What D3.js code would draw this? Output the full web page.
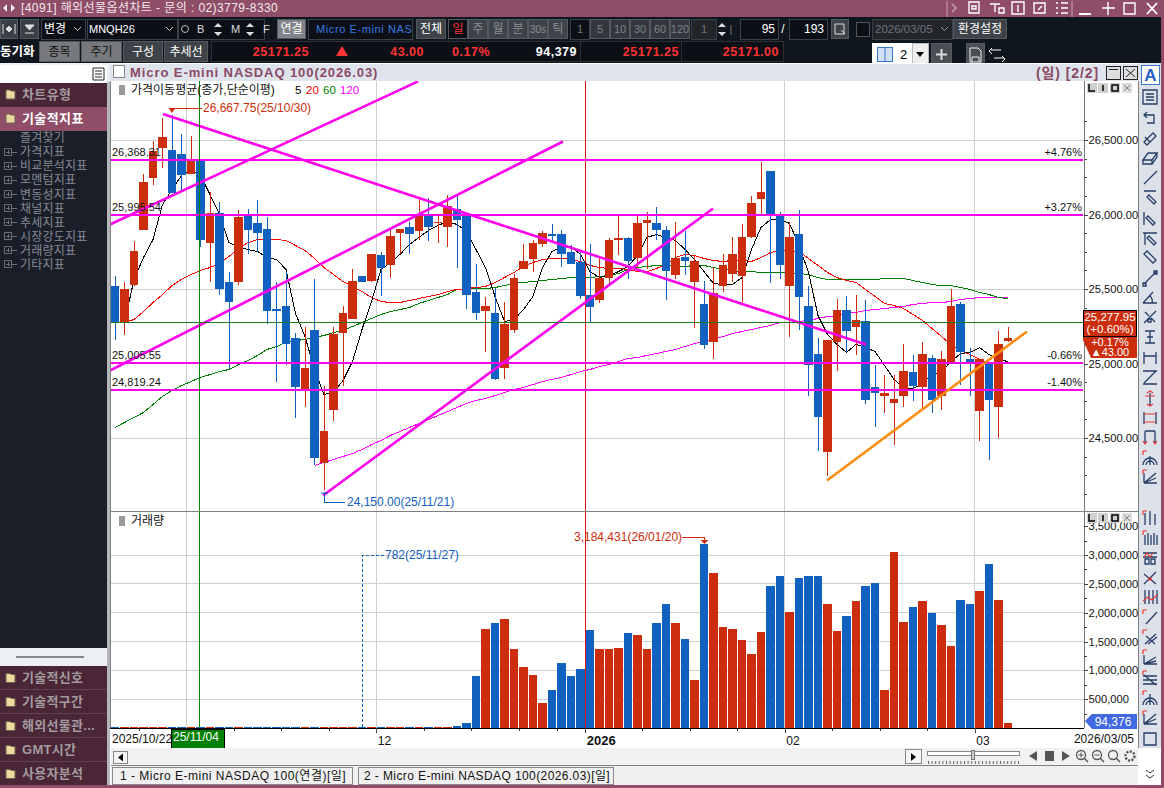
<!DOCTYPE html>
<html>
<head>
<meta charset="utf-8">
<script src="https://cdn.jsdelivr.net/npm/d3@7/dist/d3.min.js"></script>
<style>
html, body { margin: 0; padding: 0; background: #fff; overflow: hidden; }
svg { display: block; }
text { font-family: "Liberation Sans", "Noto Sans CJK KR", sans-serif; }
</style>
</head>
<body>
<div class="graphic"></div>
<script>
// chart values
var dates = ["2025/10/22","2025/10/23","2025/10/24","2025/10/27","2025/10/28","2025/10/29","2025/10/30","2025/10/31","2025/11/03","2025/11/04","2025/11/05","2025/11/06","2025/11/07","2025/11/10","2025/11/11","2025/11/12","2025/11/13","2025/11/14","2025/11/17","2025/11/18","2025/11/19","2025/11/20","2025/11/21","2025/11/24","2025/11/25","2025/11/26","2025/11/27","2025/11/28","2025/12/01","2025/12/02","2025/12/03","2025/12/04","2025/12/05","2025/12/08","2025/12/09","2025/12/10","2025/12/11","2025/12/12","2025/12/15","2025/12/16","2025/12/17","2025/12/18","2025/12/19","2025/12/22","2025/12/23","2025/12/24","2025/12/26","2025/12/29","2025/12/30","2025/12/31","2026/01/02","2026/01/05","2026/01/06","2026/01/07","2026/01/08","2026/01/09","2026/01/12","2026/01/13","2026/01/14","2026/01/15","2026/01/16","2026/01/19","2026/01/20","2026/01/21","2026/01/22","2026/01/23","2026/01/26","2026/01/27","2026/01/28","2026/01/29","2026/01/30","2026/02/02","2026/02/03","2026/02/04","2026/02/05","2026/02/06","2026/02/09","2026/02/10","2026/02/11","2026/02/12","2026/02/13","2026/02/16","2026/02/17","2026/02/18","2026/02/19","2026/02/20","2026/02/23","2026/02/24","2026/02/25","2026/02/26","2026/02/27","2026/03/02","2026/03/03","2026/03/04","2026/03/05"];
var opens = [25517,25275,25530,25893,26242,26443,26430,26409,26275,26369,25812,26013,25550,25550,25987,25940,25906,25369,25389,25168,24826,25222,24329,24691,25208,25302,25584,25557,25725,25664,25879,25913,25886,25987,25946,25919,26034,26000,25477,25349,25336,24973,25228,25631,25698,25805,25872,25872,25745,25678,25463,25423,25577,25826,25839,25711,25940,25946,25899,25591,25718,25550,25396,25141,25523,25604,25584,25852,26107,26289,25993,25523,25872,25389,25067,24403,25141,25362,25248,25282,24839,24785,24738,24779,24940,24839,25034,24779,25007,25396,25027,24678,25000,24705,25148];
var highs = [25584,25544,25819,26275,26490,26651,26668,26537,26530,26369,26148,26087,25611,26027,26034,26094,25980,25550,25617,25208,25242,25570,24846,25242,25383,25631,25584,25738,25745,25899,25906,25953,26101,26114,26000,26128,26121,26000,25671,25443,25510,25416,25604,25799,25832,25886,25933,25893,25792,25745,25805,25711,25839,25987,25852,25987,26020,26047,25926,25953,25886,25725,25557,25651,25738,25846,25933,26121,26349,26289,26020,25953,26027,25517,25168,25161,25430,25450,25463,25423,24993,24920,24920,25128,25054,25141,25060,25081,25497,25416,25101,25027,25000,25215,25242];
var lows = [25161,25188,25517,25893,26201,26315,26141,26154,26275,25779,25544,25463,24960,25530,25738,25745,25262,24879,24987,24631,24711,24322,24150,24611,24852,25302,25550,25544,25450,25577,25732,25738,25832,25819,25812,25785,25638,25369,25289,25074,24886,24899,25208,25631,25611,25779,25812,25651,25671,25430,25275,25409,25530,25725,25570,25644,25631,25832,25423,25564,25591,25235,25094,25027,25483,25544,25403,25839,26000,25537,25570,25181,25222,24785,24410,24242,24953,25074,25060,24725,24577,24671,24450,24705,24745,24691,24671,24691,25007,24859,24779,24477,24349,24497,25141];
var closes = [25275,25503,25758,26221,26423,26523,26141,26262,26369,25832,26013,25497,25416,25980,25899,25879,25349,25349,25128,24839,24973,24369,24550,25195,25336,25557,25550,25738,25638,25859,25906,25866,25987,25913,25953,26054,25966,25463,25336,25383,24893,25262,25577,25691,25812,25879,25859,25732,25671,25450,25376,25577,25826,25839,25685,25940,25960,25899,25624,25705,25685,25691,25121,25470,25658,25738,25852,26074,26154,26000,25664,25852,25443,24993,24644,25161,25356,25215,25289,24758,24799,24805,24765,24953,24852,25067,24758,25027,25383,25074,25013,25027,24752,25128,25171.25];
var volumes = [2100,1800,2400,1500,2600,1900,2200,1700,2300,2000,1600,2500,1900,1400,2100,1800,2200,1300,1700,2400,2000,2600,1900,1500,1200,900,782,1100,1800,2300,2900,3400,4200,5600,9000,17000,40000,92000,902000,1713000,1816000,1885000,1368000,1057000,920000,437000,661000,1126000,902000,1023000,1695000,1368000,1368000,1385000,1644000,1609000,1368000,1816000,2144000,1816000,1540000,833000,3184431,2695000,1747000,1713000,1523000,1282000,1661000,2454000,2644000,2006000,2609000,2644000,2644000,2144000,1678000,1937000,2195000,2454000,2523000,661000,3057000,1833000,2092000,2195000,1988000,1782000,1420000,2213000,2144000,2368000,2851000,2213000,94376];
var ma5 = [null,25275,25564,25711,25832,26067,26168,26262,26302,26262,26134,26000,25812,25779,25765,25752,25711,25698,25631,25336,25181,24960,24792,24805,24886,25013,25228,25416,25631,25678,25732,25799,25846,25893,25926,25953,25933,25886,25765,25644,25450,25282,25295,25362,25450,25644,25752,25779,25785,25732,25617,25577,25591,25617,25651,25725,25846,25866,25846,25826,25765,25698,25617,25537,25530,25530,25577,25765,25913,25966,25966,25940,25792,25611,25322,25195,25128,25074,25128,25107,25081,24987,24893,24839,24832,24866,24926,24946,25013,25067,25074,25107,25060,25027,25013];
var ma20 = [null,25275,25295,25349,25409,25463,25523,25564,25597,25624,25644,25671,25718,25772,25812,25832,25832,25832,25826,25792,25758,25705,25644,25597,25550,25517,25483,25443,25416,25409,25409,25423,25436,25450,25463,25483,25497,25503,25510,25517,25544,25577,25611,25651,25678,25698,25705,25705,25698,25685,25658,25644,25638,25638,25631,25617,25617,25638,25664,25711,25732,25725,25705,25691,25685,25691,25691,25685,25711,25745,25758,25752,25752,25705,25658,25611,25577,25557,25544,25497,25450,25403,25389,25369,25329,25289,25235,25181,25128,25087,25060,25027,25000,null,null];
var ma60 = [24571,24604,24638,24671,24725,24779,24819,24852,24879,24906,24926,24946,24960,24993,25020,25054,25094,25114,25141,25154,25161,25175,25188,25208,25222,25248,25275,25302,25329,25349,25362,25376,25403,25423,25443,25463,25497,25497,25503,25503,25510,25523,25537,25544,25550,25557,25564,25570,25577,25577,25577,25584,25591,25604,25631,25644,25651,25658,25658,25651,25651,25658,25658,25644,25631,25624,25617,25617,25611,25611,25611,25604,25604,25597,25577,25564,25564,25564,25564,25564,25564,25570,25570,25570,25557,25544,25530,25523,25523,25510,25497,25477,25463,25443,25436];
var ma120 = [null,null,null,null,null,null,null,null,null,null,null,null,null,null,null,null,null,null,null,null,null,24316,24336,24356,24376,24396,24423,24456,24483,24517,24544,24571,24597,24624,24651,24678,24705,24732,24752,24765,24785,24805,24826,24839,24859,24879,24893,24906,24926,24946,24960,24980,24993,25013,25034,25040,25054,25067,25081,25094,25114,25134,25148,25168,25181,25201,25215,25228,25242,25255,25275,25275,25282,25289,25302,25315,25322,25336,25342,25356,25362,25369,25376,25383,25396,25403,25409,25409,25416,25430,25436,25443,25443,25443,25443];

// horizontal levels and trend lines drawn by the user: [bar number, price]
var levelPrices = [26368.31, 25995.54, 25005.55, 24819.24];
var levelPcts = ["+4.76%", "+3.27%", "-0.66%", "-1.40%"];
var trendLines = [
    [[-0.53, 25933], [31.9, 26893]],
    [[5.05, 26674], [79.05, 25128]],
    [[-0.53, 24953], [47.16, 26490]],
    [[21.9, 24114], [62.95, 26040]]
];
var orangeLine = [[74.95, 24215], [96, 25215]];

var priceTicks = [26500, 26000, 25500, 25000, 24500];
var priceMinor = [26625, 26500, 26375, 26250, 26125, 26000, 25875, 25750, 25625, 25500, 25375, 25250, 25125, 25000, 24875, 24750, 24625, 24500, 24375, 24250, 24125];
var volTicks = [500000, 1000000, 1500000, 2000000, 2500000, 3000000, 3500000];
var volMinor = [250000, 500000, 750000, 1000000, 1250000, 1500000, 1750000, 2000000, 2250000, 2500000, 2750000, 3000000, 3250000, 3500000];
var monthDates = ["2025/11/03", "2025/12/01", "2026/01/02", "2026/02/02", "2026/03/02"];
var monthLabels = ["", "12", "2026", "02", "03"];
var weekDates = ["2025/10/27","2025/11/10","2025/11/17","2025/11/24","2025/12/08","2025/12/15","2025/12/22","2025/12/29","2026/01/12","2026/01/19","2026/01/26","2026/02/09","2026/02/16","2026/02/23"];
var lastPrice = 25277.95;
var cursorDate = "2025/11/04";

var menuTop = ["차트유형", "기술적지표"];
var menuTree = ["즐겨찾기", "가격지표", "비교분석지표", "모멘텀지표", "변동성지표", "채널지표", "추세지표", "시장강도지표", "거래량지표", "기타지표"];
var menuBottom = ["기술적신호", "기술적구간", "해외선물관...", "GMT시간", "사용자분석"];

var RED = "#cc2e0d", BLUE = "#1161c0", MAGENTA = "#ff00ee", PLUM = "#8f4d68", DARK = "#10161e", GRID = "#cfcfcf";

var svg = d3.select(".graphic").append("svg").attr("width", 1164).attr("height", 788);

function box(g, x, y, w, h, fill, stroke) {
    return g.append("rect").attr("x", x).attr("y", y).attr("width", w).attr("height", h)
        .attr("fill", fill).attr("stroke", stroke || "none").attr("shape-rendering", "crispEdges");
}
function label(g, x, y, s, size, color, anchor, extra) {
    var t = g.append("text").attr("x", x).attr("y", y).attr("dy", "0.36em")
        .attr("font-size", size).attr("fill", color).attr("text-anchor", anchor || "start").text(s);
    if (extra) for (var k in extra) t.attr(k, extra[k]);
    return t;
}
function button(g, x, y, w, h, s, fill, color, size) {
    box(g, x + 0.5, y + 0.5, w - 1, h - 1, fill, "#555a60");
    label(g, x + w / 2, y + h / 2, s, size || 12, color, "middle");
}

/* ---------- window chrome ---------- */
var chrome = svg.append("g");
box(chrome, 0, 0, 1164, 17, PLUM);
box(chrome, 0, 17, 1164, 46, DARK);
label(chrome, 21, 8, "[4091] 해외선물옵션차트 - 문의 : 02)3779-8330", 12, "#f3e8ec", "start", {"letter-spacing": "0.42"});
chrome.append("path").attr("d", "M3 8l4-4v8zM15 8l-4-4v8z").attr("fill", "#eee");
var titleIcons = chrome.append("g").attr("stroke", "#fff").attr("fill", "none").attr("stroke-width", 1.4);
titleIcons.append("path").attr("d", "M947 1v16M1072 1v16").attr("stroke", "#b58ca0");
titleIcons.append("path").attr("d", "M952 4l4 4-4 4").attr("stroke", "#c9aab8");
titleIcons.append("path").attr("d", "M969 2h10v11h-10zM972 6h4v3h-4z");
titleIcons.append("path").attr("d", "M990 4h10M995 4v8M999 8h5v5h-5z");
titleIcons.append("path").attr("d", "M1012 2h12v12h-12zM1018 5v7");
titleIcons.append("path").attr("d", "M1034 3h11v10h-11zM1038 10l4-4");
titleIcons.append("path").attr("d", "M1056 3h2M1061 3h7M1056 8h2M1061 8h7M1056 13h2M1061 13h7");
titleIcons.append("path").attr("d", "M1079 14h12").attr("stroke-width", 2);
titleIcons.append("path").attr("d", "M1108 2v13M1102 8h13");
titleIcons.append("path").attr("d", "M1124 3h11v11h-11z");
titleIcons.append("path").attr("d", "M1147 3l10 11M1157 3l-10 11").attr("stroke-width", 1.8);

// first toolbar row
button(chrome, 0, 19, 18, 20, "", "#3a3f46", "#fff");
chrome.append("path").attr("d", "M3 24v10M15 24v10M6 29l3-3v6zM12 29l-3-3v6z").attr("stroke", "#ddd").attr("fill", "#ddd");
button(chrome, 20, 19, 19, 20, "", "#3a3f46", "#fff");
chrome.append("path").attr("d", "M25 25h9l-4.5 5zM25 33h9").attr("stroke", "#ddd").attr("fill", "#ddd");
box(chrome, 41.5, 19.5, 44, 20, "#0c1016", "#3b4046");
label(chrome, 44, 29, "변경", 12, "#fff");
chrome.append("path").attr("d", "M74 27l3.5 3.5 3.5-3.5").attr("stroke", "#ccc").attr("fill", "none");
box(chrome, 87.5, 19.5, 90, 20, "#0c1016", "#3b4046");
label(chrome, 89, 29, "MNQH26", 11, "#fff");
chrome.append("path").attr("d", "M166 27l3.5 3.5 3.5-3.5").attr("stroke", "#ccc").attr("fill", "none");
box(chrome, 178.5, 19.5, 86, 20, "#0c1016", "#3b4046");
chrome.append("circle").attr("cx", 185).attr("cy", 29).attr("r", 3.5).attr("fill", "none").attr("stroke", "#bbb");
label(chrome, 197, 29, "B", 11, "#ddd");
label(chrome, 231, 29, "M", 11, "#ddd");
label(chrome, 263, 29, "F", 11, "#ddd");
chrome.append("path").attr("d", "M214 27l4-4 4 4zM214 32l4 4 4-4zM246 27l4-4 4 4zM246 32l4 4 4-4z").attr("fill", "#ddd");
button(chrome, 277, 19, 29, 20, "연결", "#80848a", "#fff");
box(chrome, 308.5, 19.5, 104, 20, "#0c1016", "#3b4046");
label(chrome, 316, 29, "Micro E-mini NAS", 11, "#3a78e0", "start", {"letter-spacing": "0.6"});
button(chrome, 416, 19, 30, 20, "전체", "#3e4349", "#fff");
["일", "주", "월", "분", "30s", "틱"].forEach(function (s, i) {
    button(chrome, 448 + i * 20, 19, 20, 20, s, i == 0 ? "#0c1016" : "#3e4349", i == 0 ? "#ff3030" : "#8b9096", i == 4 ? 10 : 12);
});
box(chrome, 570.5, 19.5, 19, 20, "#0c1016", "#3b4046");
label(chrome, 580, 29, "1", 11, "#777", "middle");
["5", "10", "30", "60", "120"].forEach(function (s, i) {
    button(chrome, 590 + i * 20, 19, 20, 20, s, "#33373d", "#7d8288", 11);
});
box(chrome, 691.5, 19.5, 25, 20, "#22262b", "#3b4046");
label(chrome, 704, 29, "1", 11, "#777", "middle");
chrome.append("path").attr("d", "M718 27l4-4 4 4zM718 32l4 4 4-4z").attr("fill", "#ddd");
label(chrome, 731, 29, "|", 11, "#777", "middle");
box(chrome, 740.5, 19.5, 38, 20, "#0c1016", "#3b4046");
label(chrome, 775, 29, "95", 12, "#fff", "end");
label(chrome, 783, 29, "/", 12, "#fff", "middle");
box(chrome, 789.5, 19.5, 38, 20, "#0c1016", "#3b4046");
label(chrome, 824, 29, "193", 12, "#fff", "end");
button(chrome, 831, 19, 18, 20, "", "#3e4349", "#fff");
chrome.append("path").attr("d", "M835 24h9v10h-9zM841 30l4 4").attr("stroke", "#ddd").attr("fill", "none");
box(chrome, 856.5, 22.5, 13, 14, "#0c1016", "#555");
box(chrome, 872.5, 19.5, 80, 20, "#22262b", "#3b4046");
label(chrome, 875, 29, "2026/03/05", 11.5, "#6e7378");
chrome.append("path").attr("d", "M941 27l3.5 3.5 3.5-3.5").attr("stroke", "#999").attr("fill", "none");
button(chrome, 953, 19, 54, 20, "환경설정", "#3e4349", "#fff");

// second toolbar row
label(chrome, 0, 51, "동기화", 12.5, "#fff", "start", {"font-weight": "bold"});
[["종목", 39, 41, "#77797e"], ["주기", 81, 41, "#77797e"], ["구성", 123, 40, "#3e4349"], ["추세선", 164, 44, "#3e4349"]].forEach(function (b) {
    button(chrome, b[1], 41, b[2], 21, b[0], b[3], b[3] == "#77797e" ? "#111" : "#fff");
});
box(chrome, 211.5, 41.5, 572, 20, "#0c1016", "#2c3036");
chrome.append("path").attr("d", "M580.5 41v21M681.5 41v21").attr("stroke", "#2c3036");
var quote = [["25171.25", 309, "#ff3333"], ["43.00", 424, "#ff3333"], ["0.17%", 490, "#ff3333"], ["94,379", 577, "#fff"], ["25171.25", 679, "#ff3333"], ["25171.00", 779, "#ff3333"]];
quote.forEach(function (q) {
    label(chrome, q[1], 51.5, q[0], 12.5, q[2], "end", {"font-weight": "bold", "letter-spacing": "0.5"});
});
chrome.append("path").attr("d", "M336 56l6-10 6 10z").attr("fill", "#ff3333");
box(chrome, 872, 43, 56, 23, "#fff");
box(chrome, 912, 43, 16, 23, "#eee", "#bbb");
box(chrome, 877.5, 47, 15, 14, "#cfe0f8", "#3a78d0");
chrome.append("path").attr("d", "M885 47v14").attr("stroke", "#3a78d0");
label(chrome, 900, 54, "2", 13, "#000");
chrome.append("path").attr("d", "M916 52h8l-4 5z").attr("fill", "#000");
button(chrome, 931, 43, 21, 23, "", "#4a4f55", "#fff");
chrome.append("path").attr("d", "M936 54.5h11M941.5 49v11").attr("stroke", "#ddd").attr("stroke-width", 2);
button(chrome, 966, 43, 19, 23, "", "#4a4f55", "#fff");
chrome.append("path").attr("d", "M970 48h8l3 3v11h-11zM972 62v-5h7v5").attr("stroke", "#eee").attr("fill", "none");
chrome.append("path").attr("d", "M991 50h10M1004 58h-10M992 48l-3 3 3 3M1002 56l3 3-3 3").attr("stroke", "#fff").attr("fill", "none");

/* ---------- left menu ---------- */
var left = svg.append("g");
box(left, 0, 63, 110, 725, "#eceff4");
box(left, 0, 65, 107, 18, "#fff");
left.append("path").attr("d", "M93 68h11v12h-11zM95 71h7M95 74h7M95 77h7").attr("stroke", "#222").attr("fill", "none");
box(left, 0, 83, 107, 24, "#4a2636");
box(left, 0, 107, 107, 24, PLUM);
box(left, 0, 131, 107, 517, "#1a1e29");
box(left, 107, 82, 3, 706, "#b4b6bc");
box(left, 16, 656, 68, 2, "#85858c");
box(left, 0, 666, 107, 119, "#4a2636");
function folder(g, y) {
    g.append("path").attr("d", "M6 " + (y - 4) + "h4l1 1h4v8h-9z").attr("fill", "#ecd9a0").attr("stroke", "#6d6250");
}
menuTop.forEach(function (s, i) {
    folder(left, 94 + i * 24);
    label(left, 22, 94 + i * 24, s, 13, i == 1 ? "#fff" : "#a39aa0", "start", {"font-weight": "bold", "letter-spacing": "0.4"});
});
menuTree.forEach(function (s, i) {
    var y = 138 + i * 14.05;
    label(left, 20, y, s, 12, "#858a96", "start", {"letter-spacing": "0.2"});
    if (i > 0) {
        left.append("path").attr("d", "M4.5 " + (y - 3.5) + "h7v7h-7zM6 " + y + "h4M8 " + (y - 2) + "v4M12 " + y + "h5")
            .attr("stroke", "#6a6e78").attr("fill", "none").attr("shape-rendering", "crispEdges");
    }
});
menuBottom.forEach(function (s, i) {
    var y = 677.5 + i * 24;
    folder(left, y);
    if (i > 0) left.append("path").attr("d", "M0 " + (y - 12) + "H107").attr("stroke", "#5d4250");
    label(left, 22, y, s, 13, "#a39aa0", "start", {"font-weight": "bold", "letter-spacing": "0.3"});
});

/* ---------- chart frame ---------- */
box(svg, 110, 63, 1030, 725, "#fff");
box(svg, 110, 64, 1030, 17, "#dfe3ec");
box(svg, 113, 65, 11, 12, "#fff", "#888");
label(svg, 130, 72.5, "Micro E-mini NASDAQ 100(2026.03)", 13, "#8a4a66", "start", {"font-weight": "bold", "letter-spacing": "0.92"});
label(svg, 1036, 72.5, "(일) [2/2]", 14, "#8a4a66", "start", {"font-weight": "bold", "letter-spacing": "0.9"});
box(svg, 1106.5, 66, 14, 13, "#ddd", "#222");
box(svg, 1123.5, 66, 14, 13, "#ddd", "#222");
svg.append("path").attr("d", "M1109 69.5h9M1126 69l9 8M1135 69l-9 8").attr("stroke", "#222");

/* ---------- scales ---------- */
var x = d3.scaleLinear().domain([0, dates.length - 1]).range([115, 1008]);
var y = d3.scaleLinear().domain([26500, 24500]).range([140, 438]);
var yVol = d3.scaleLinear().domain([0, 3000000]).range([728, 555]);
var halfBar = (x(1) - x(0)) / 2;
var isUp = function (i) { return closes[i] >= opens[i]; };

svg.append("defs").append("clipPath").attr("id", "priceClip").append("rect")
    .attr("x", 111).attr("y", 81).attr("width", 972).attr("height", 430);

/* ---------- grids ---------- */
var grid = svg.append("g").attr("shape-rendering", "crispEdges");
grid.selectAll(".hp").data(priceTicks).join("line").attr("x1", 110).attr("x2", 1084)
    .attr("y1", function (d) { return y(d); }).attr("y2", function (d) { return y(d); }).attr("stroke", GRID);
grid.selectAll(".hv").data(volTicks.slice(0, 6)).join("line").attr("x1", 110).attr("x2", 1084)
    .attr("y1", function (d) { return yVol(d); }).attr("y2", function (d) { return yVol(d); }).attr("stroke", GRID);
var monthIdx = monthDates.map(function (d) { return dates.indexOf(d); });
grid.selectAll(".mv").data(monthIdx).join("line")
    .attr("x1", function (d) { return x(d - 0.5); }).attr("x2", function (d) { return x(d - 0.5); })
    .attr("y1", 81).attr("y2", 728)
    .attr("stroke", function (d, i) { return i == 2 ? "#dd1111" : GRID; });

/* ---------- moving averages ---------- */
var lineGen = d3.line()
    .defined(function (d) { return d != null; })
    .x(function (d, i) { return x(i); })
    .y(function (d) { return y(d); });
var maG = svg.append("g").attr("fill", "none").attr("clip-path", "url(#priceClip)").attr("shape-rendering", "crispEdges");
[[ma120, "#ff00ff"], [ma60, "#008000"], [ma20, "#ff0000"], [ma5, "#000"]].forEach(function (m) {
    maG.append("path").datum(m[0]).attr("d", lineGen).attr("stroke", m[1]).attr("stroke-width", 1);
});

/* ---------- candles ---------- */
var candles = svg.append("g").attr("shape-rendering", "crispEdges").attr("clip-path", "url(#priceClip)");
candles.selectAll("line").data(d3.range(dates.length)).join("line")
    .attr("x1", function (i) { return x(i); }).attr("x2", function (i) { return x(i); })
    .attr("y1", function (i) { return y(highs[i]); }).attr("y2", function (i) { return y(lows[i]); })
    .attr("stroke", function (i) { return isUp(i) ? RED : BLUE; });
candles.selectAll("rect").data(d3.range(dates.length)).join("rect")
    .attr("x", function (i) { return x(i) - halfBar + 0.5; })
    .attr("width", halfBar * 2 - 1)
    .attr("y", function (i) { return y(Math.max(opens[i], closes[i])); })
    .attr("height", function (i) { return Math.max(1.5, Math.abs(y(opens[i]) - y(closes[i]))); })
    .attr("fill", function (i) { return isUp(i) ? RED : BLUE; });

/* ---------- volume ---------- */
svg.append("g").attr("shape-rendering", "crispEdges").selectAll("rect").data(volumes).join("rect")
    .attr("x", function (d, i) { return x(i) - halfBar + 0.5; })
    .attr("width", halfBar * 2 - 1)
    .attr("y", function (d) { return Math.min(727, yVol(d)); })
    .attr("height", function (d) { return Math.max(1, yVol(0) - yVol(d)); })
    .attr("fill", function (d, i) { return isUp(i) ? RED : BLUE; });

/* ---------- levels, trend lines, cursor ---------- */
var over = svg.append("g").attr("clip-path", "url(#priceClip)");
over.selectAll(".lvl").data(levelPrices).join("line").attr("x1", 111).attr("x2", 1084)
    .attr("y1", function (d) { return y(d); }).attr("y2", function (d) { return y(d); })
    .attr("stroke", MAGENTA).attr("stroke-width", 2).attr("shape-rendering", "crispEdges");
var pointLine = d3.line().x(function (d) { return x(d[0]); }).y(function (d) { return y(d[1]); });
over.selectAll(".trend").data(trendLines).join("path").attr("d", pointLine)
    .attr("fill", "none").attr("stroke", MAGENTA).attr("stroke-width", 2.6);
over.append("path").datum(orangeLine).attr("d", pointLine)
    .attr("fill", "none").attr("stroke", "#ff8c10").attr("stroke-width", 2.6);
over.append("line").attr("x1", 111).attr("x2", 1084)
    .attr("y1", y(lastPrice)).attr("y2", y(lastPrice))
    .attr("stroke", "#1b7a1b").attr("shape-rendering", "crispEdges");
svg.append("line").attr("x1", x(dates.indexOf(cursorDate)) - 1.5).attr("x2", x(dates.indexOf(cursorDate)) - 1.5)
    .attr("y1", 81).attr("y2", 729).attr("stroke", "#008a00").attr("stroke-width", 1).attr("shape-rendering", "crispEdges");

levelPrices.forEach(function (p, i) {
    label(svg, 112, y(p) - 8, d3.format(",.2f")(p), 11, "#111");
    label(svg, 1082, y(p) - 8, levelPcts[i], 11, "#111", "end");
});

/* ---------- panel headers ---------- */
box(svg, 119, 85, 6, 10, "#9a9a9a");
label(svg, 131, 89.5, "가격이동평균(종가,단순이평)", 12, "#111");
[["5", 295, "#000"], ["20", 306, "#f00000"], ["60", 323, "#008000"], ["120", 340, "#ff00ff"]].forEach(function (m) {
    label(svg, m[1], 89.5, m[0], 11.5, m[2]);
});
box(svg, 119, 516, 6, 10, "#9a9a9a");
label(svg, 131, 520.5, "거래량", 12, "#111");

/* ---------- annotations ---------- */
var hiIdx = highs.indexOf(d3.max(highs)), loIdx = lows.indexOf(d3.min(lows));
var volIdx = volumes.indexOf(d3.max(volumes)), volLoIdx = volumes.indexOf(d3.min(volumes));
var shortDate = function (i) { return dates[i].slice(2); };
var ann = svg.append("g").attr("fill", "none");
ann.append("path").attr("d", "M" + x(hiIdx) + " " + (y(highs[hiIdx]) - 7) + "V108H202").attr("stroke", RED).attr("shape-rendering", "crispEdges");
ann.append("path").attr("d", "M" + (x(hiIdx) - 3.5) + " 108h7l-3.5 5z").attr("fill", RED);
label(svg, 203, 108, "26,667.75(" + shortDate(hiIdx) + ")", 12, RED);
ann.append("path").attr("d", "M" + (x(loIdx) + 0.5) + " " + (y(lows[loIdx]) + 2) + "V502H345").attr("stroke", BLUE).attr("shape-rendering", "crispEdges");
ann.append("path").attr("d", "M" + (x(loIdx) - 3) + " " + (y(lows[loIdx]) + 3) + "h7").attr("stroke", BLUE);
label(svg, 347, 502, "24,150.00(" + shortDate(loIdx) + ")", 12, BLUE);
ann.append("path").attr("d", "M682 537H" + (x(volIdx) + 0.5) + "V542").attr("stroke", RED).attr("shape-rendering", "crispEdges");
ann.append("path").attr("d", "M" + (x(volIdx) - 3.5) + " 540h8l-4 4z").attr("fill", RED);
label(svg, 574, 537, "3,184,431(" + shortDate(volIdx) + ")", 12, RED);
ann.append("path").attr("d", "M" + (x(volLoIdx) + 0.5) + " 727V555H384").attr("stroke", BLUE).attr("stroke-dasharray", "3,2").attr("shape-rendering", "crispEdges");
label(svg, 385, 555, "782(" + shortDate(volLoIdx) + ")", 12, BLUE);

/* ---------- axes ---------- */
function styleAxis(g) {
    g.select(".domain").attr("stroke", "#777");
    g.selectAll(".tick line").attr("stroke", "#444");
    g.selectAll("text").attr("font-size", 11.2).attr("fill", "#111");
    g.attr("shape-rendering", "crispEdges");
}
var axisP = svg.append("g").attr("transform", "translate(1083.5,0)");
axisP.call(d3.axisRight(y).tickValues(priceMinor).tickSize(3).tickFormat("")).call(styleAxis);
var axisP2 = svg.append("g").attr("transform", "translate(1083.5,0)");
axisP2.call(d3.axisRight(y).tickValues(priceTicks).tickSize(4).tickPadding(1).tickFormat(d3.format(",.2f"))).call(styleAxis);
axisP.select(".domain").remove();
axisP2.select(".domain").attr("d", "M0.5 81V728");

var axisV = svg.append("g").attr("transform", "translate(1083.5,0)");
axisV.call(d3.axisRight(yVol).tickValues(volMinor).tickSize(3).tickFormat("")).call(styleAxis);
var axisV2 = svg.append("g").attr("transform", "translate(1083.5,0)");
axisV2.call(d3.axisRight(yVol).tickValues(volTicks).tickSize(4).tickPadding(1).tickFormat(d3.format(","))).call(styleAxis);
axisV.select(".domain").remove();
axisV2.select(".domain").remove();

svg.append("path").attr("d", "M110.5 81V728M110 511.5H1138M1138.5 81V748").attr("stroke", "#808080").attr("fill", "none").attr("shape-rendering", "crispEdges");

var axisX = svg.append("g").attr("transform", "translate(0,728)");
axisX.call(d3.axisBottom(x).tickValues(weekDates.map(function (d) { return dates.indexOf(d) - 0.5; })).tickSize(3).tickFormat("")).call(styleAxis);
var axisX2 = svg.append("g").attr("transform", "translate(0,728)");
axisX2.call(d3.axisBottom(x).tickValues(monthIdx.map(function (d) { return d - 0.5; })).tickSize(5).tickPadding(3)
    .tickFormat(function (d, i) { return monthLabels[i]; })).call(styleAxis);
axisX2.selectAll("text").attr("text-anchor", "start").attr("dx", 1).attr("font-size", 12);
axisX2.selectAll("text").filter(function (d, i) { return i == 2; }).attr("font-weight", "bold").attr("font-size", 13);
axisX.select(".domain").remove();
axisX2.select(".domain").attr("d", "M110 0.5H1084").attr("stroke", "#000").attr("stroke-width", 1.5);
label(svg, 112, 738.5, dates[0], 12, "#111");
label(svg, 1134, 738.5, dates[dates.length - 1], 12, "#111", "end");
box(svg, 171, 729, 53, 19, "#008000", "#000");
label(svg, 173, 736.5, cursorDate.slice(2), 12, "#fff");

/* ---------- value tags ---------- */
svg.append("path").attr("d", "M1083 336H1137V358H1091L1083 340z").attr("fill", RED);
label(svg, 1110, 342, "+0.17%", 11, "#fff", "middle");
box(svg, 1083.5, 310.5, 53, 26, RED, "#000");
label(svg, 1110, 317, d3.format(",.2f")(lastPrice), 11.5, "#fff", "middle");
label(svg, 1110, 329, "(+0.60%)", 11.5, "#fff", "middle");
label(svg, 1110, 352, "▲43.00", 11, "#fff", "middle");
svg.append("path").attr("d", "M1085 721L1092 714H1137V729H1092z").attr("fill", "#4169e1");
label(svg, 1113, 721.5, d3.format(",")(volumes[volumes.length - 1]), 12, "#fff", "middle");

/* ---------- mini panel buttons ---------- */
[83, 513].forEach(function (top) {
    [0, 11, 23, 35].forEach(function (o, i) {
        box(svg, 1087 + o, top, 10, 10, i == 3 ? "#ddd" : "#cfcfcf");
    });
    svg.append("path").attr("d", "M1089 " + (top + 1) + "v7h6M1103 " + (top + 2) + "v6M1112 " + (top + 2) + "h6v6h-6z")
        .attr("stroke", "#000").attr("stroke-width", 1.5).attr("fill", "none");
    svg.append("path").attr("d", "M1124 " + (top + 2) + "l6 6M1130 " + (top + 2) + "l-6 6").attr("stroke", "#888").attr("fill", "none");
});

/* ---------- scroll bar and tabs ---------- */
var foot = svg.append("g");
box(foot, 111, 748, 1027, 17, "#f1f1f1");
box(foot, 113.5, 751.5, 14, 12, "#f5f5f5", "#888");
foot.append("path").attr("d", "M118 757.5l5-4v8z").attr("fill", "#000");
box(foot, 905.5, 749.5, 16, 14, "#f5f5f5", "#888");
foot.append("path").attr("d", "M911 753l5 4-5 4z").attr("fill", "#000");
box(foot, 927.5, 751.5, 92, 4, "#fff", "#888");
box(foot, 971, 750, 3, 9, "#ccc", "#777");
d3.range(26).forEach(function (i) {
    foot.append("path").attr("d", "M" + (928.5 + i * 3.6) + " 761v3").attr("stroke", "#666");
});
foot.append("path").attr("d", "M1029 756l8-5v10zM1045 751h9v10h-9zM1062 751l8 5-8 5z").attr("fill", "#555");
[1081, 1097, 1113].forEach(function (c, i) {
    foot.append("circle").attr("cx", c).attr("cy", 755).attr("r", 4.5).attr("fill", "none").attr("stroke", "#555").attr("stroke-width", 1.3);
    foot.append("path").attr("d", "M" + (c + 3) + " 758l4 4").attr("stroke", "#555").attr("stroke-width", 1.5);
    if (i < 2) foot.append("path").attr("d", "M" + (c - 2.5) + " 755h5" + (i == 0 ? "M" + c + " 752.5v5" : "")).attr("stroke", "#555");
});
foot.append("circle").attr("cx", 1130).attr("cy", 756).attr("r", 4.5).attr("fill", "none").attr("stroke", "#555").attr("stroke-width", 2.4).attr("stroke-dasharray", "2,1.4");
box(foot, 111, 765, 1027, 1.5, "#808080");
box(foot, 111, 766, 1027, 19, "#f0f0f0");
box(foot, 112.5, 767.5, 240, 17, "#f0f0f0", "#8a8a8a");
box(foot, 358.5, 767.5, 255, 17, "#f0f0f0", "#8a8a8a");
label(foot, 120, 776, "1 - Micro E-mini NASDAQ 100(연결)[일]", 12, "#111", "start", {"letter-spacing": "0.5"});
label(foot, 364, 776, "2 - Micro E-mini NASDAQ 100(2026.03)[일]", 12, "#111", "start", {"letter-spacing": "0.4"});
box(foot, 0, 785, 1164, 3, PLUM);

/* ---------- right tool strip ---------- */
var strip = svg.append("g");
box(strip, 1139, 63, 22, 685, "#dde2ea");
box(strip, 1139, 748, 22, 37, "#fff");
box(strip, 1161, 17, 3, 771, PLUM);
box(strip, 1141.5, 65.5, 18, 19, "#fff", "#3a78d0");
label(strip, 1150.5, 75, "A", 17, "#2a60d0", "middle", {"font-weight": "bold"});
var iconNavy = "#263e66";
var toolIcons = [
    [97, "M1 1h14v14h-14zM4 5h8M4 8h8M4 11h8", ""],
    [118, "M5 2l-3 3 3 3M2 5h10v8h-7", ""],
    [137, "M2 13l9-9 3 3-9 9zM3 8l5 5", ""],
    [157, "M1 11l5-7h9l-5 7zM1 11v4h9v-4M10 15l5-7V4", ""],
    [177, "M2 15L15 2", ""],
    [197, "M2 2h12M7 6l7 7-2 2-7-7z", ""],
    [218, "M2 2v13M6 6l7 7-2 2-7-7z", ""],
    [238, "M1 3h14M3 3v12M7 6l7 7-2 2-7-7z", ""],
    [257, "M5 2l9 9-3 3-9-9z", ""],
    [277, "M2 15L14 3M1 14h3v3h-3zM12 2h3v3h-3z", ""],
    [297, "M1 14h14M1 14L11 3M10 14a7 7 0 0 0-2-7", ""],
    [317, "M2 14L14 2M3 3l4 4M9 9l4 4M6 10h3v3h-3z", ""],
    [337, "M8 2v12M3 2h10M3 14h10M5 8h6", ""],
    [358, "M2 2v12M14 2v12M2 6h12", ""],
    [377, "M2 14L14 2M1 2h14M1 15h14", ""],
    [398, "M8 3v12", "M3 6h10M5 3L8 1l3 2M5 14l3 2 3-2"],
    [418, "M2 2v12M14 2v12", "M2 4h12M2 12h12"],
    [437, "M3 2h10M3 2v12M13 2v12", "M1 12l2 3 2-3M11 12l2 3 2-3"],
    [458, "M1 15a7 7 0 0 1 14 0M4 15a4 4 0 0 1 8 0M8 6v9", "M1 1h4M1 1v4"],
    [477, "M2 14L14 4M2 14L14 9M2 14h13M2 4v10", "M1 1h4M1 1v4"],
    [518, "M3 15V3M8 15V1M13 15V4", "M1 1h4M1 1v4"],
    [538, "M3 15V5M6 15V3M9 15V5M12 15V3M15 15V5", "M1 1h4M1 1v4"],
    [558, "M1 3h14M1 7h14M3 9h4v5h-4zM9 9h4v5h-4z", "M2 7l3-4 3 4 3-4"],
    [578, "M2 14L14 2M2 4l12 10", "M7 8h2v2h-2z"],
    [597, "M3 1v14M7 1v14M11 1v14M15 1v14", "M1 12l5-4 4 3 5-5"],
    [617, "M4 15L15 3", "M1 1h4M1 1v4"],
    [637, "M3 15L14 5M6 15L15 8M4 7l9 8", "M1 1h4M1 1v4"],
    [657, "M2 15V6M2 15L14 8M2 15h13M2 15L14 12", "M1 1h4M1 1v4"],
    [678, "M1 6h14M1 10h14M1 14h14M2 5l12 10", "M1 1h4M1 1v4"],
    [698, "M1 15a7 7 0 0 1 14 0M4 15a4 4 0 0 1 8 0M8 4v11", "M1 1h4M1 1v4"],
    [718, "M2 14L14 4M2 14L14 9M2 14h13M2 4v10", "M1 1h4M1 1v4"],
    [738, "M2 3h12v12h-12z", ""]
];
toolIcons.forEach(function (t) {
    var g = strip.append("g").attr("transform", "translate(1142," + (t[0] - 8) + ")").attr("fill", "none");
    g.append("path").attr("d", t[1]).attr("stroke", iconNavy).attr("stroke-width", 1.3);
    if (t[2]) g.append("path").attr("d", t[2]).attr("stroke", "#ee3333").attr("stroke-width", 1.2);
});
strip.append("path").attr("d", "M1146 770l4 3 4-3M1146 775l4 3 4-3").attr("stroke", "#333").attr("fill", "none");
</script>
</body>
</html>
